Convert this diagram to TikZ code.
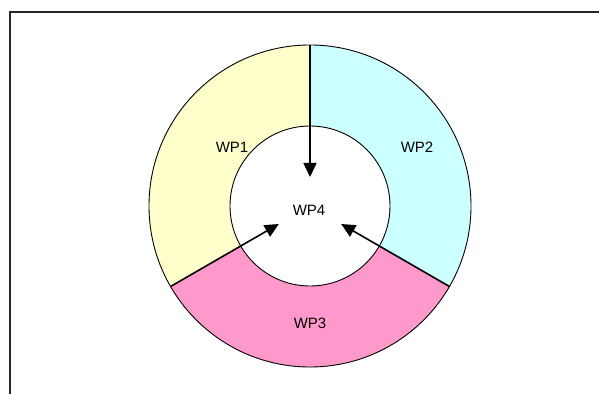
\documentclass[tikz,border=0pt]{standalone}
\usepackage{fontspec}
\setmainfont{Liberation Sans}
\usetikzlibrary{arrows.meta}
\definecolor{wpyellow}{HTML}{FFFFCC}
\definecolor{wpcyan}{HTML}{CCFFFF}
\definecolor{wppink}{HTML}{FF99CC}
\tikzset{
  ringedge/.style={draw=black, line width=0.9pt},
  divider/.style={draw=black, line width=1.6pt},
  flow/.style={divider, -{Triangle[length=14pt,width=13pt]}},
  wplabel/.style={inner sep=0pt, font=\fontsize{15pt}{18pt}\selectfont},
  frameline/.style={draw=black!85, line width=2pt}
}
\newcommand{\ringsector}[3]{%
  \fill[#1] (#2:161pt) arc[start angle=#2, end angle=#3, radius=161pt]
    -- (#3:80pt) arc[start angle=#3, end angle=#2, radius=80pt] -- cycle;}
\begin{document}
\begin{tikzpicture}[x=1pt,y=1pt]
  \useasboundingbox (0,0) rectangle (599,394);
  % open frame: top and left edges
  \coordinate (frameTR) at (599,382);
  \coordinate (frameTL) at (10,382);
  \coordinate (frameBL) at (10,394-394);
  \draw[frameline] (frameTR) -- (frameTL) -- (frameBL);
  \begin{scope}[shift={(310,188)}]
    % coloured ring sectors
    \ringsector{wpyellow}{90}{210}
    \ringsector{wpcyan}{-30}{90}
    \ringsector{wppink}{210}{330}
    % ring outlines
    \draw[ringedge] (0,0) circle[radius=161pt];
    \draw[ringedge] (0,0) circle[radius=80pt];
    % points where the dividers start and end
    \coordinate (outerTop) at (90:161pt);
    \coordinate (outerLeft) at (210:161pt);
    \coordinate (outerRight) at (330:161pt);
    \coordinate (tipTop) at (90:29pt);
    \coordinate (tipLeft) at (210:36pt);
    \coordinate (tipRight) at (330:36pt);
    % labels
    \node[wplabel] (wp1) at (-78,59) {WP1};
    \node[wplabel] (wp2) at (107,59) {WP2};
    \node[wplabel] (wp3) at (0,-117) {WP3};
    \node[wplabel] (wp4) at (-1,-4) {WP4};
    % dividers flowing into the centre
    \draw[flow] (outerTop) -- (tipTop);
    \draw[flow] (outerLeft) -- (tipLeft);
    \draw[flow] (outerRight) -- (tipRight);
  \end{scope}
\end{tikzpicture}
\end{document}
